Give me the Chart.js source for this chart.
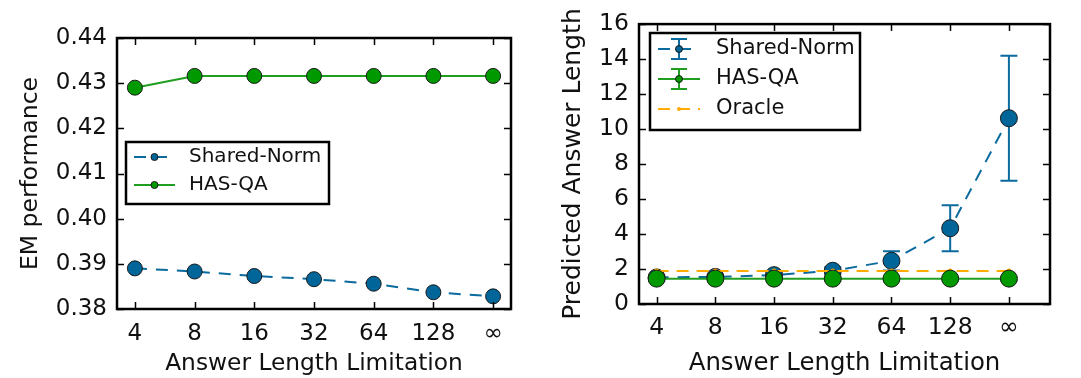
<!DOCTYPE html>
<html><head><meta charset="utf-8">
<script src="https://cdn.jsdelivr.net/npm/chart.js@4/dist/chart.umd.min.js"></script>
<style>
html,body{margin:0;padding:0;background:#fff;}
#wrap{position:relative;width:1081px;height:378px;overflow:hidden;background:#fff;}
#c1{position:absolute;left:0;top:0;}
#c2{position:absolute;left:540px;top:0;}
</style></head><body>
<div id="wrap"><canvas id="c1" width="540" height="378"></canvas><canvas id="c2" width="541" height="378"></canvas></div>
<script>
// ---- data ----
const categories = ['4', '8', '16', '32', '64', '128', '\u221e'];
const emSharedNorm = [0.3890, 0.3883, 0.3873, 0.3866, 0.3856, 0.3837, 0.3828];
const emHasQA = [0.4290, 0.4316, 0.4316, 0.4316, 0.4316, 0.4316, 0.4316];
const lenSharedNorm = [1.52, 1.55, 1.65, 1.90, 2.47, 4.33, 10.62];
const lenSharedNormErr = [0.10, 0.10, 0.15, 0.20, 0.55, 1.32, 3.57];
const lenHasQA = [1.45, 1.45, 1.45, 1.45, 1.45, 1.45, 1.45];
const lenHasQAErr = [0.10, 0.10, 0.10, 0.10, 0.10, 0.10, 0.10];
const lenOracle = [1.88, 1.88, 1.88, 1.88, 1.88, 1.88, 1.88];
const emTickLabels = ['0.38', '0.39', '0.40', '0.41', '0.42', '0.43', '0.44'];
const lenTickLabels = ['0', '2', '4', '6', '8', '10', '12', '14', '16'];

// ---- style ----
const BLUE = '#0b6a9e', BLUE_FILL = '#006699';
const GREEN = '#1f9e1f', GREEN_FILL = '#009900';
const ORANGE = '#ffab00';
const FONT = "'DejaVu Sans', sans-serif";
const TXT = '#111';

const toXY = arr => arr.map((v, i) => ({x: i, y: v}));

const framePlugin = {
  id: 'frameTicks',
  beforeDatasetsDraw(chart) {
    const {ctx, scales: {x, y}} = chart;
    chart.data.datasets.forEach(ds => {
      if (!ds.errorBars) return;
      ctx.save();
      ctx.strokeStyle = ds.borderColor;
      ctx.lineWidth = 2;
      ds.data.forEach((p, i) => {
        const e = ds.errorBars[i];
        const px = x.getPixelForValue(p.x);
        const y1 = y.getPixelForValue(p.y + e), y2 = y.getPixelForValue(p.y - e);
        ctx.beginPath();
        ctx.moveTo(px, y1); ctx.lineTo(px, y2);
        ctx.moveTo(px - 8.5, y1); ctx.lineTo(px + 8.5, y1);
        ctx.moveTo(px - 8.5, y2); ctx.lineTo(px + 8.5, y2);
        ctx.stroke();
      });
      ctx.restore();
    });
  },
  afterDraw(chart, args, opts) {
    const {ctx, chartArea: a, scales: {x, y}} = chart;
    ctx.save();
    ctx.strokeStyle = '#000';
    ctx.lineWidth = 1.5;
    ctx.beginPath();
    x.ticks.forEach(t => {
      const px = Math.round(x.getPixelForValue(t.value)) + 0.5;
      ctx.moveTo(px, a.bottom); ctx.lineTo(px, a.bottom - 7);
      ctx.moveTo(px, a.top); ctx.lineTo(px, a.top + 7);
    });
    y.ticks.forEach(t => {
      const py = Math.round(y.getPixelForValue(t.value)) + 0.5;
      ctx.moveTo(a.left, py); ctx.lineTo(a.left + 7, py);
      ctx.moveTo(a.right, py); ctx.lineTo(a.right - 7, py);
    });
    ctx.stroke();
    ctx.lineWidth = 2.5;
    ctx.strokeRect(a.left, a.top, a.right - a.left, a.bottom - a.top);

    // legend
    const L = opts.legend;
    if (L) {
      ctx.fillStyle = '#fff';
      ctx.fillRect(L.x, L.y, L.w, L.h);
      ctx.lineWidth = 2.5;
      ctx.strokeStyle = '#000';
      ctx.strokeRect(L.x, L.y, L.w, L.h);
      ctx.font = L.fontSize + 'px ' + FONT;
      ctx.textBaseline = 'middle';
      ctx.textAlign = 'left';
      L.items.forEach((it, k) => {
        const cy = L.rowY + k * L.rowGap;
        const cx = (L.sx1 + L.sx2) / 2;
        ctx.save();
        ctx.strokeStyle = it.color;
        ctx.lineWidth = 2;
        ctx.setLineDash(it.dash || []);
        ctx.beginPath();
        ctx.moveTo(L.sx1, cy); ctx.lineTo(L.sx2, cy);
        ctx.stroke();
        ctx.setLineDash([]);
        if (it.err) {
          ctx.beginPath();
          ctx.moveTo(cx, cy - 10); ctx.lineTo(cx, cy + 10);
          ctx.moveTo(cx - 8, cy - 10); ctx.lineTo(cx + 8, cy - 10);
          ctx.moveTo(cx - 8, cy + 10); ctx.lineTo(cx + 8, cy + 10);
          ctx.stroke();
        }
        ctx.beginPath();
        ctx.arc(cx, cy, it.r, 0, Math.PI * 2);
        ctx.fillStyle = it.fill;
        ctx.fill();
        if (it.r > 2) { ctx.lineWidth = 1; ctx.strokeStyle = '#1a1a1a'; ctx.stroke(); }
        ctx.restore();
        ctx.fillStyle = TXT;
        ctx.fillText(it.label, L.tx, cy);
      });
    }
    ctx.restore();
  }
};

function xScale(max, tickSize, titleSize, height, pad) {
  return {
    type: 'linear', min: -0.3, max: max,
    grid: {display: false, drawTicks: false}, border: {display: false},
    afterBuildTicks: s => { s.ticks = categories.map((c, i) => ({value: i})); },
    ticks: {autoSkip: false, maxRotation: 0, padding: pad, color: TXT,
      font: {family: FONT, size: tickSize},
      callback: v => categories[v]},
    title: {display: true, text: 'Answer Length Limitation', color: TXT,
      font: {family: FONT, size: titleSize}, padding: {top: 0, bottom: 0}},
    afterFit: s => { s.height = height; }
  };
}
function yScale(min, max, labels, title, tickSize, titleSize, width, tpad) {
  return {
    min: min, max: max,
    grid: {display: false, drawTicks: false}, border: {display: false},
    afterBuildTicks: s => { s.ticks = labels.map(l => ({value: parseFloat(l)})); },
    ticks: {padding: 10, color: TXT, font: {family: FONT, size: tickSize},
      callback: (v, i) => labels[i]},
    title: {display: true, text: title, color: TXT,
      font: {family: FONT, size: titleSize}, padding: {top: tpad, bottom: 0}},
    afterFit: s => { s.width = width; }
  };
}

new Chart(document.getElementById('c1'), {
  type: 'line',
  data: {datasets: [
    {label: 'Shared-Norm', data: toXY(emSharedNorm), borderColor: BLUE, borderDash: [12, 9],
     borderWidth: 2, pointRadius: 7.5, pointBackgroundColor: BLUE_FILL, pointBorderColor: '#1a1a1a',
     pointBorderWidth: 1, order: 1},
    {label: 'HAS-QA', data: toXY(emHasQA), borderColor: GREEN, borderWidth: 2,
     pointRadius: 7.5, pointBackgroundColor: GREEN_FILL, pointBorderColor: '#1a1a1a',
     pointBorderWidth: 1, order: 0}
  ]},
  options: {
    responsive: false, animation: false, devicePixelRatio: 1,
    layout: {padding: {top: 38, right: 29, left: 0, bottom: 0}},
    scales: {
      x: xScale(6.3, 23, 23.3, 69, 11),
      y: yScale(0.38, 0.44, emTickLabels, 'EM performance', 23, 23.5, 117, 17)
    },
    plugins: {legend: {display: false}, tooltip: {enabled: false},
      frameTicks: {legend: {x: 126, y: 142, w: 203, h: 62, rowY: 157, rowGap: 28,
        sx1: 134, sx2: 175, tx: 189, fontSize: 20, items: [
          {label: 'Shared-Norm', color: BLUE, dash: [12, 9], fill: BLUE_FILL, r: 3.5},
          {label: 'HAS-QA', color: GREEN, fill: GREEN_FILL, r: 3.5}
        ]}}}
  },
  plugins: [framePlugin]
});

new Chart(document.getElementById('c2'), {
  type: 'line',
  data: {datasets: [
    {label: 'Shared-Norm', data: toXY(lenSharedNorm), errorBars: lenSharedNormErr, borderColor: BLUE,
     borderDash: [12, 9], borderWidth: 2, pointRadius: 8.5, pointBackgroundColor: BLUE_FILL,
     pointBorderColor: '#1a1a1a', pointBorderWidth: 1, order: 2},
    {label: 'HAS-QA', data: toXY(lenHasQA), errorBars: lenHasQAErr, borderColor: GREEN, borderWidth: 2,
     pointRadius: 8.5, pointBackgroundColor: GREEN_FILL, pointBorderColor: '#1a1a1a',
     pointBorderWidth: 1, order: 0},
    {label: 'Oracle', data: toXY(lenOracle), borderColor: ORANGE, borderDash: [12, 8], borderWidth: 2,
     pointRadius: 2.5, pointBackgroundColor: ORANGE, pointBorderWidth: 0, order: 1}
  ]},
  options: {
    responsive: false, animation: false, devicePixelRatio: 1,
    layout: {padding: {top: 21, right: 31, left: 0, bottom: 0}},
    scales: {
      x: xScale(6.7, 23.5, 24.4, 74, 10),
      y: yScale(0, 16, lenTickLabels, 'Predicted Answer Length', 23.5, 25, 99, 18)
    },
    plugins: {legend: {display: false}, tooltip: {enabled: false},
      frameTicks: {legend: {x: 110, y: 33, w: 210, h: 97, rowY: 49, rowGap: 30,
        sx1: 118, sx2: 160, tx: 176, fontSize: 21, items: [
          {label: 'Shared-Norm', color: BLUE, dash: [12, 9], fill: BLUE_FILL, r: 3.5, err: true},
          {label: 'HAS-QA', color: GREEN, fill: GREEN_FILL, r: 3.5, err: true},
          {label: 'Oracle', color: ORANGE, dash: [12, 8], fill: ORANGE, r: 2}
        ]}}}
  },
  plugins: [framePlugin]
});
</script>
</body></html>
